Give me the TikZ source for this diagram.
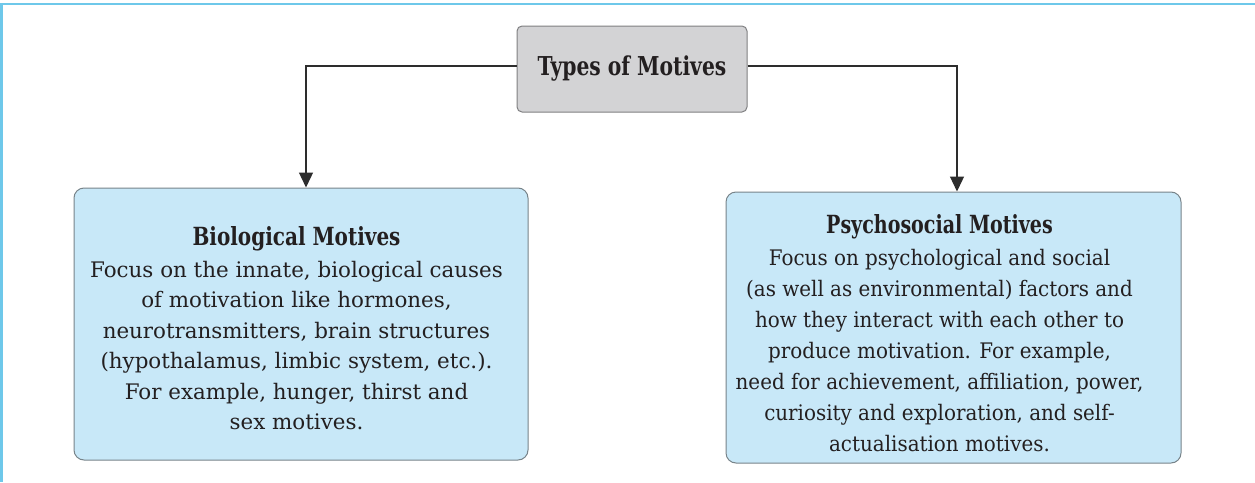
\documentclass[tikz,border=0pt]{standalone}
\usepackage{fontspec}
\setmainfont{DejaVu Serif}
\usetikzlibrary{arrows.meta}
\definecolor{frameblue}{RGB}{110,200,234}
\definecolor{boxblue}{RGB}{200,232,248}
\definecolor{boxedge}{RGB}{120,132,138}
\definecolor{topgray}{RGB}{211,211,213}
\definecolor{topedge}{RGB}{128,128,130}
\definecolor{ink}{RGB}{35,31,32}
\definecolor{lineink}{RGB}{45,45,45}
\newcommand{\boxtitle}[2]{\scalebox{#1}[1]{\fontsize{25}{28}\selectfont\bfseries #2}}
\tikzset{
  motivebox/.style={draw=boxedge, line width=1pt, fill=boxblue, rounded corners=10pt, inner sep=0pt},
  topbox/.style={draw=topedge, line width=1pt, fill=topgray, rounded corners=5pt, minimum width=230pt, minimum height=86pt, inner sep=0pt, text=ink},
  bodytext/.style={inner sep=0pt, text=ink},
  conn/.style={draw=lineink, line width=1.3pt, -{Triangle[length=15pt,width=14pt]}}
}
\begin{document}
\begin{tikzpicture}[x=1pt,y=-1pt]
\useasboundingbox (0,0) rectangle (1255,482);
\fill[white] (0,0) rectangle (1255,482);
% frame
\draw[frameblue, line width=2.5pt] (0,4) -- (1255,4);
\draw[frameblue, line width=2.5pt] (1.5,4) -- (1.5,482);
% boxes
\node[topbox] (top) at (632,69) {\scalebox{0.78}[1]{\fontsize{26}{28}\selectfont\bfseries Types of Motives}};
\node[motivebox, minimum width=454pt, minimum height=272pt] (bio) at (301,324) {};
\node[motivebox, minimum width=455pt, minimum height=271pt] (psy) at (953.5,327.5) {};
% texts
\node[bodytext, anchor=north] (biotxt) at (296.5,223.65) {\fontsize{21.4}{30.5}\selectfont
\begin{tabular}{@{}c@{}}\boxtitle{0.8}{Biological Motives}\\[1.5pt]
Focus on the innate, biological causes\\
of motivation like hormones,\\
neurotransmitters, brain structures\\
(hypothalamus, limbic system, etc.).\\
For example, hunger, thirst and\\
sex motives.\end{tabular}};
\node[bodytext, anchor=north] (psytxt) at (939.5,211.3) {\fontsize{21.4}{31}\selectfont
\scalebox{0.93}[1]{\begin{tabular}{@{}c@{}}\boxtitle{0.82}{Psychosocial Motives}\\[1.5pt]
Focus on psychological and social\\
(as well as environmental) factors and\\
how they interact with each other to\\
produce motivation. For example,\\
need for achievement, affiliation, power,\\
curiosity and exploration, and self-\\
actualisation motives.\end{tabular}}};
% connectors
\draw[conn] ([yshift=3pt]top.west) -| ([xshift=5pt]bio.north);
\draw[conn] ([yshift=3pt]top.east) -| ([xshift=3.5pt]psy.north);
\end{tikzpicture}
\end{document}
